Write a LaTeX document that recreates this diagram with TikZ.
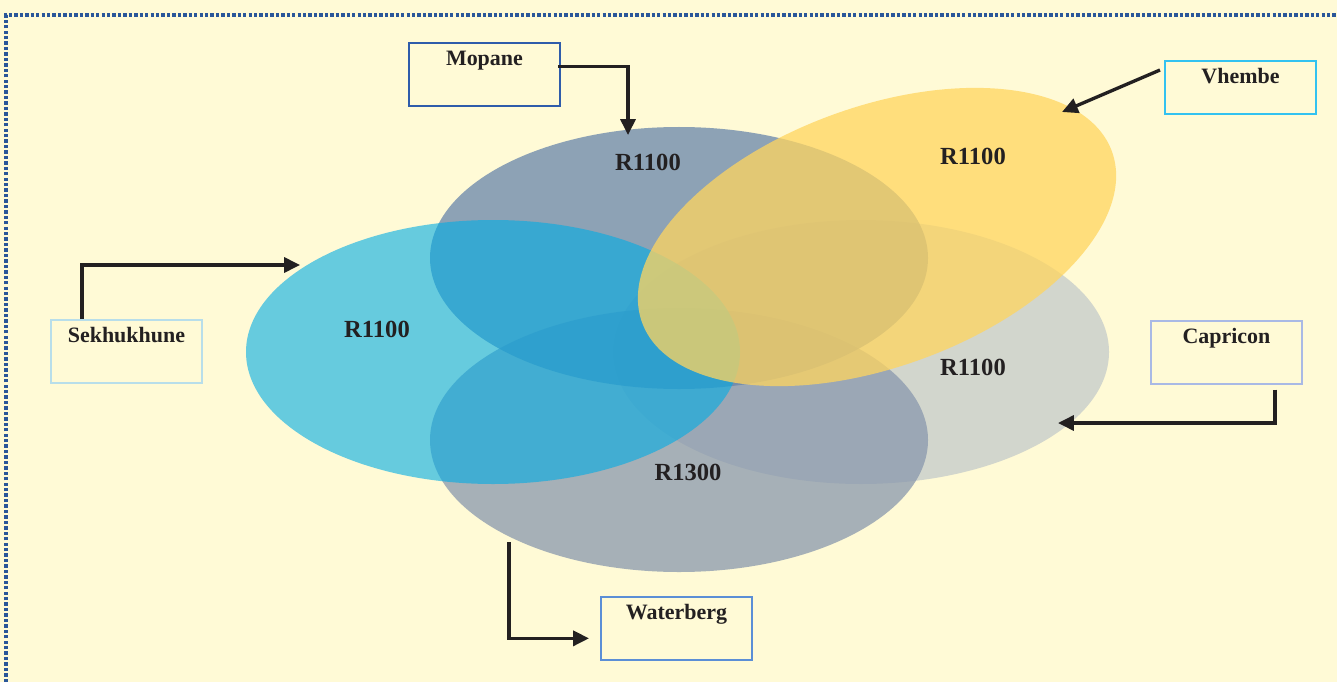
\documentclass[tikz,border=0pt]{standalone}
\usepackage{fontspec}
\setmainfont{Liberation Serif}
\usetikzlibrary{arrows.meta}

\definecolor{paper}{RGB}{255,250,214}
\definecolor{framecol}{RGB}{42,86,153}
\definecolor{inkgray}{RGB}{35,32,33}
\definecolor{mopcol}{RGB}{104,133,170}
\definecolor{vhecol}{RGB}{255,213,95}
\definecolor{sekcol}{RGB}{0,172,228}
\definecolor{capcol}{RGB}{195,202,202}
\definecolor{watcol}{RGB}{137,152,173}

\begin{document}
\begin{tikzpicture}[x=0.02cm, y=-0.02cm, line width=1.9pt, draw=inkgray,
        >={Triangle[length=9pt,width=8.5pt]},
        every node/.style={text=inkgray, font=\bfseries\fontsize{12.5}{14}\selectfont},
        box/.style={draw, line width=1.1pt, fill=paper, anchor=north west,
            minimum width=3.02cm, text width=2.6cm, align=center,
            text height=9pt, text depth=18.7pt, inner ysep=4pt},
        price/.style={font=\bfseries\fontsize{14}{16}\selectfont},
        blob/.style={fill opacity=0.75}]
        \useasboundingbox (0,0) rectangle (1337,682);
        \fill[paper] (0,0) rectangle (1337,682);
        \draw[framecol, line width=2.2pt, dash pattern=on 1.9pt off 1.2pt] (6,682) -- (6,15) -- (1337,15);

        % the five districts
        \fill[blob, capcol] (861,352) ellipse [x radius=248, y radius=132];
        \fill[blob, watcol] (679,440) ellipse [x radius=249, y radius=132];
        \fill[blob, mopcol] (679,258) ellipse [x radius=249, y radius=131];
        \fill[blob, sekcol, fill opacity=0.6] (493,352) ellipse [x radius=247, y radius=132];
        \fill[blob, vhecol, rotate around={20:(877,237)}] (877,237) ellipse [x radius=250, y radius=130];

        \node[price] (mopR) at (648,162) {R1100};
        \node[price] (vheR) at (973,156) {R1100};
        \node[price] (sekR) at (377,329) {R1100};
        \node[price] (capR) at (973,367) {R1100};
        \node[price] (watR) at (688,472) {R1300};

        % name boxes
        \node[box, draw={rgb,255:red,47;green,92;blue,170}] (mopbox) at (408,42) {Mopane};
        \node[box, draw={rgb,255:red,51;green,194;blue,240}, text depth=13pt] (vhebox) at (1164,60) {Vhembe};
        \node[box, draw={rgb,255:red,184;green,222;blue,234}] (sekbox) at (50,319) {Sekhukhune};
        \node[box, draw={rgb,255:red,169;green,185;blue,229}] (capbox) at (1150,320) {Capricon};
        \node[box, draw={rgb,255:red,91;green,142;blue,214}] (watbox) at (600,596) {Waterberg};

        \coordinate (mopTip) at (628,135);
        \coordinate (vheTip) at (1062,112);
        \coordinate (sekTip) at (300,265);
        \coordinate (capTip) at (1058,423);
        \coordinate (watStart) at (509,542);

        \draw[->] ([shift={(-3,-8)}]mopbox.east) -| (mopTip);
        \draw[->] ([shift={(-4,10)}]vhebox.north west) -- (vheTip);
        \draw[->] ([shift={(32,0)}]sekbox.north west) |- (sekTip);
        \draw[->] ([shift={(-28,5)}]capbox.south east) |- (capTip);
        \draw[->] (watStart) |- ([shift={(-11,10)}]watbox.west);
    \end{tikzpicture}
\end{document}
